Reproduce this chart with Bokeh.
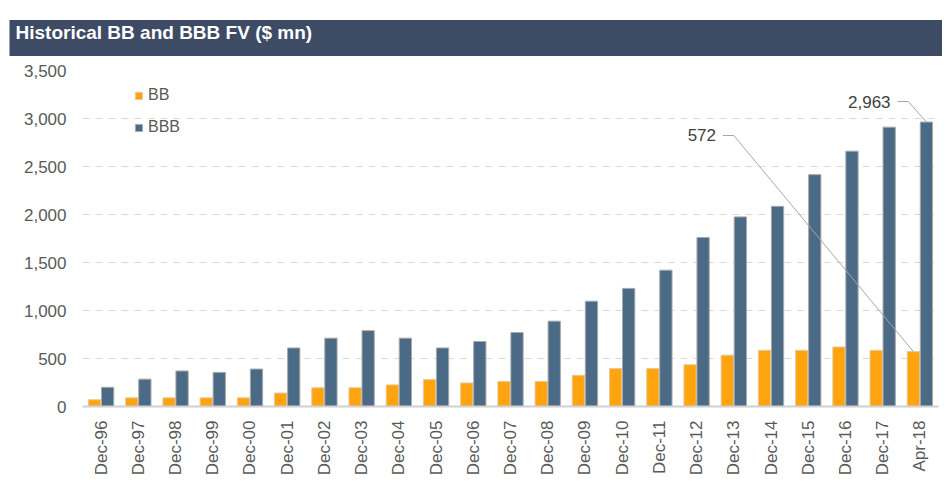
from bokeh.plotting import figure
from bokeh.models import (FactorRange, Range1d, Label, Legend, LegendItem,
                          NumeralTickFormatter, FixedTicker, ColumnDataSource)
from bokeh.transform import dodge
from bokeh.embed import file_html
from bokeh.resources import INLINE

# ---------------- data ----------------
periods = ["Dec-96", "Dec-97", "Dec-98", "Dec-99", "Dec-00", "Dec-01", "Dec-02",
           "Dec-03", "Dec-04", "Dec-05", "Dec-06", "Dec-07", "Dec-08", "Dec-09",
           "Dec-10", "Dec-11", "Dec-12", "Dec-13", "Dec-14", "Dec-15", "Dec-16",
           "Dec-17", "Apr-18"]
bb = [70, 90, 90, 90, 90, 140, 195, 195, 225, 280, 245, 260, 260, 325, 395,
      395, 435, 535, 585, 585, 620, 585, 572]
bbb = [200, 285, 370, 355, 390, 610, 712, 790, 712, 610, 677, 771, 889, 1097,
       1230, 1420, 1760, 1975, 2085, 2415, 2660, 2910, 2963]
y_ticks = [0, 500, 1000, 1500, 2000, 2500, 3000, 3500]
series_names = ["BB", "BBB"]
title_text = "Historical BB and BBB FV ($ mn)"

# ---------------- style ----------------
FONT = "Liberation Sans"
ORANGE = "#FFA40F"
SLATE = "#4B6A86"
TITLE_BG = "#3D4B65"
TEXT = "#595959"
GRID = "#D9D9D9"
OFF = 0.175
BW = 0.33

W, H = 942, 479
LEFT, RIGHT, TOP, BOTTOM = 82, 4, 70, 73

src = ColumnDataSource(dict(period=periods, bb=bb, bbb=bbb))

p = figure(width=W, height=H, x_range=FactorRange(*periods),
           y_range=Range1d(y_ticks[0], y_ticks[-1]),
           toolbar_location=None, output_backend="svg",
           min_border_left=LEFT, min_border_right=RIGHT, min_border_top=TOP,
           min_border_bottom=BOTTOM)
p.outline_line_color = None

# title bar: title text with a wide background box
p.title.text = title_text
p.title.align = "left"
p.title.offset = -73
p.title.standoff = 29
p.title.text_color = "white"
p.title.text_font = FONT
p.title.text_font_style = "bold"
p.title.text_font_size = "19px"
p.title.background_fill_color = TITLE_BG
p.title.padding = dict(left=6, right=1000, top=2, bottom=13)

r_bb = p.vbar(x=dodge("period", -OFF, range=p.x_range), top="bb", width=BW,
              source=src, fill_color=ORANGE, line_color="#E8C89A", line_width=1)
r_bbb = p.vbar(x=dodge("period", OFF, range=p.x_range), top="bbb", width=BW,
               source=src, fill_color=SLATE, line_color="#A9A9A9", line_width=1)

# axes
p.yaxis.ticker = FixedTicker(ticks=y_ticks)
p.yaxis.formatter = NumeralTickFormatter(format="0,0")
p.yaxis.axis_line_color = None
p.yaxis.major_tick_line_color = None
p.yaxis.minor_tick_line_color = None
p.yaxis.major_tick_out = 0
p.yaxis.major_tick_in = 0
p.yaxis.major_label_standoff = 16
p.yaxis.major_label_text_font = FONT
p.yaxis.major_label_text_font_size = "17px"
p.yaxis.major_label_text_color = TEXT

p.xaxis.axis_line_color = "#D0D0D0"
p.xaxis.axis_line_width = 2
p.xaxis.major_tick_line_color = None
p.xaxis.minor_tick_line_color = None
p.xaxis.major_tick_out = 0
p.xaxis.major_tick_in = 0
p.xaxis.major_label_orientation = 1.5708
p.xaxis.major_label_standoff = 14
p.xaxis.major_label_text_font = FONT
p.xaxis.major_label_text_font_size = "17px"
p.xaxis.major_label_text_color = TEXT

p.xgrid.grid_line_color = None
p.ygrid.grid_line_color = GRID
p.ygrid.grid_line_dash = "7 6"
p.ygrid.grid_line_width = 1

# legend
legend = Legend(items=[LegendItem(label=series_names[0], renderers=[r_bb]),
                       LegendItem(label=series_names[1], renderers=[r_bbb])],
                location=(52, 270), glyph_width=9, glyph_height=9,
                label_standoff=5, spacing=14, padding=0, margin=0,
                label_text_font=FONT, label_text_font_size="16px",
                label_text_color=TEXT, border_line_alpha=0,
                background_fill_alpha=0)
p.add_layout(legend)

# callouts (anchors in synthetic category coordinates)
last = len(periods) - 1 + 0.5
callouts = [
    # text, bar-top x, bar-top y, elbow x, elbow y
    (f"{bb[-1]:,}", last - OFF, bb[-1], 17.5, 2823),
    (f"{bbb[-1]:,}", last + OFF, bbb[-1], 22.19, 3177),
]
for txt, bx, by, ex, ey in callouts:
    hx = ex - 0.29
    p.line(x=[hx, ex, bx], y=[ey, ey, by], line_color="#A6A6A6", line_width=1)
    p.add_layout(Label(x=hx, y=ey, x_offset=-7, text=txt, text_align="right",
                       text_baseline="middle", text_font=FONT,
                       text_font_size="17px", text_color="#404040"))

open("out.html", "w").write(file_html(p, INLINE))
